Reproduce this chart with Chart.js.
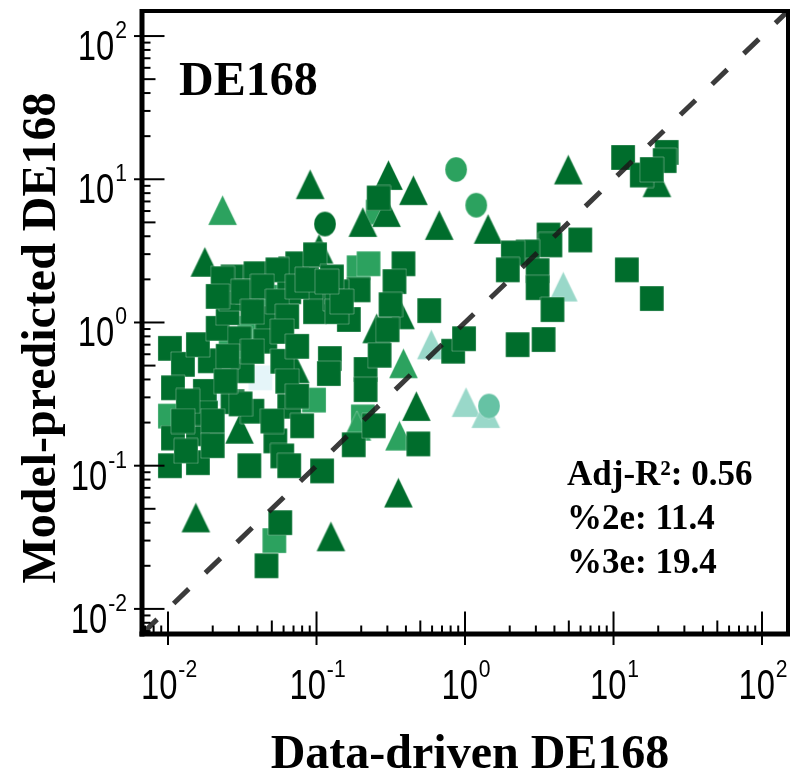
<!DOCTYPE html>
<html><head><meta charset="utf-8">
<script src="https://cdn.jsdelivr.net/npm/chart.js@4"></script>
<style>html,body{margin:0;padding:0;background:#fff}#wrap{width:799px;height:773px;position:relative}</style>
</head><body><div id="wrap"><canvas id="c" width="799" height="773"></canvas></div>
<script>
// ---- data ----
const axisMin = 0.00668, axisMax = 149.6;
const decadeTicks = [0.01, 0.1, 1, 10, 100];
const decadeExponents = ['-2', '-1', '0', '1', '2'];
const xTitle = 'Data-driven DE168';
const yTitle = 'Model-predicted DE168';
const panelLabel = 'DE168';
const statLines = ['Adj-R\u00B2: 0.56', '%2e: 11.4', '%3e: 19.4'];
const identityLine = [[0.00668, 0.00668], [149.6, 149.6]];

const darkSquares = [
  [0.0103,0.66],[0.0126,0.51],[0.0108,0.35],[0.0103,0.100],[0.0159,0.105],[0.0108,0.156],
  [0.0159,0.167],[0.0154,0.23],[0.0177,0.33],[0.0191,0.54],[0.0159,0.70],[0.0216,0.91],
  [0.0252,1.17],[0.0264,1.47],[0.0272,2.08],[0.0388,2.19],[0.0665,2.37],[0.0741,2.57],
  [0.0977,2.97],[0.0655,1.64],[0.0467,1.07],[0.0303,0.77],[0.0452,0.74],[0.0318,0.46],
  [0.0272,0.28],[0.0370,0.24],[0.0655,0.26],[0.080,0.19],[0.0528,0.149],[0.0588,0.117],
  [0.0353,0.100],[0.109,0.092],[0.0993,1.64],[0.0977,1.19],[0.133,1.47],[0.123,0.56],
  [0.121,0.44],[0.165,1.05],[0.192,1.69],[0.214,0.47],[0.214,0.34],[0.178,0.14],
  [0.243,0.19],[0.385,2.57],[0.335,1.93],[0.315,1.33],[0.574,1.21],[0.832,0.63],
  [0.985,0.77],[0.485,0.142],[0.057,0.040],[0.046,0.020],[0.137,1.64],[0.0308,0.27],
  [0.018,0.233],[0.266,0.59],[0.301,0.89],[0.0233,2.02],[0.0545,2.33],[0.0343,1.64],
  [0.0216,1.52],[0.262,7.4],
  [0.0318,1.64],[0.0432,1.78],[0.0545,1.40],[0.0741,1.78],[0.0370,1.19],[0.0635,1.10],
  [0.127,2.08],[0.137,1.19],[0.0863,1.99],[0.0136,0.283],[0.0126,0.205],[0.0200,0.205],
  [0.0132,0.127],[0.0200,0.138],[0.0252,0.581],[0.0370,0.629],[0.0244,0.389],[0.0588,0.536],
  [0.0635,0.389],[0.0741,0.306],[0.0655,0.100],[0.0588,0.866],[0.148,1.40],[0.1175,1.93],
  [0.0741,0.681],[0.0504,0.205],
  [3.65,4.08],[3.76,3.48],[5.97,3.77],[2.64,3.11],[2.10,3.06],[1.94,2.33],[3.08,2.30],
  [3.08,1.75],[3.88,1.23],[12.3,2.33],[18.1,1.47],[2.26,0.70],[3.38,0.76],[11.6,14.2],
  [22.8,15.4],[22.1,13.5],[15.5,10.7],[18.1,11.7]
];
const mediumSquares = [
  [0.0103,0.222],[0.0353,0.91],[0.0452,1.40],[0.0264,0.68],[0.0962,0.287],[0.192,2.41],
  [0.224,2.57],[0.258,5.9],[0.205,0.219],[0.052,0.030],[0.0504,1.50]
];
const lightSquares = [[0.0419,0.41],[0.0209,0.32],[0.0665,2.26]];
const darkTriangles = [
  [0.0177,2.65],[0.0906,9.23],[0.305,10.7],[0.449,8.39],[0.205,5.03],[0.296,5.9],
  [0.670,4.79],[1.43,4.50],[4.96,11.7],[19.6,9.53],[0.0303,0.181],[0.0154,0.0435],
  [0.125,0.0321],[0.356,0.0649],[0.470,0.261],[0.104,3.27],[0.0718,0.48],[0.254,0.91],
  [0.368,1.14]
];
const mediumTriangles = [[0.0233,6.09],[0.385,0.519],[0.362,0.162],[0.187,0.19]];
const lightTriangles = [[0.593,0.703],[1.016,0.278],[1.38,0.233],[4.59,1.78]];
const darkCircles = [[0.114,4.87]];
const mediumCircles = [[0.871,11.7],[1.19,6.59]];
const tealCircles = [[1.45,0.261]];

// ---- colours ----
const C_DARK = '#006d2c', C_MED = '#2ca25f', C_LIGHT = '#99d8c9', C_TEAL = '#66c2a4', C_PALE = '#e5f5f9';

function markerCanvas(kind, color) {
  const dims = {square:[24,25], triangle:[29,30], circle:[22,25]}[kind];
  const w = dims[0], h = dims[1];
  const c = document.createElement('canvas');
  c.width = w + 2; c.height = h + 2;
  const g = c.getContext('2d');
  g.beginPath();
  if (kind === 'square') g.rect(1, 1, w, h);
  else if (kind === 'triangle') { g.moveTo(1 + w/2, 1); g.lineTo(1 + w, 1 + h); g.lineTo(1, 1 + h); g.closePath(); }
  else g.ellipse(1 + w/2, 1 + h/2, w/2, h/2, 0, 0, Math.PI * 2);
  g.fillStyle = color; g.fill();
  g.strokeStyle = 'rgba(255,255,255,0.3)'; g.lineWidth = 1; g.stroke();
  return c;
}
const pts = arr => arr.map(p => ({x: p[0], y: p[1]}));
function ds(arr, kind, color, order) {
  return { data: pts(arr), pointStyle: markerCanvas(kind, color), pointRadius: 10, order: order, showLine: false };
}

const framePlugin = {
  id: 'frame',
  afterDraw(chart) {
    const ctx = chart.ctx, a = chart.chartArea, xs = chart.scales.x, ys = chart.scales.y;
    ctx.save();
    ctx.strokeStyle = '#000'; ctx.fillStyle = '#000';
    // ticks
    ctx.lineWidth = 2;
    for (let d = -3; d <= 2; d++) {
      for (let m = 1; m <= 9; m++) {
        const v = m * Math.pow(10, d);
        if (v < axisMin || v > axisMax) continue;
        const len = m === 1 ? 20 : (m === 5 ? 11 : 6);
        const px = xs.getPixelForValue(v);
        ctx.beginPath();
        ctx.moveTo(px, a.bottom + (m === 1 ? 11 : 0));
        ctx.lineTo(px, a.bottom - 2.5 - len);
        ctx.stroke();
        const py = ys.getPixelForValue(v);
        ctx.beginPath();
        ctx.moveTo(a.left - (m === 1 ? 8 : 0), py);
        ctx.lineTo(a.left + 2.5 + len, py);
        ctx.stroke();
      }
    }
    // frame
    ctx.lineWidth = 5;
    ctx.beginPath(); ctx.moveTo(a.left, a.top - 2); ctx.lineTo(a.left, a.bottom + 2.5); ctx.stroke();
    ctx.beginPath(); ctx.moveTo(a.left - 2.5, a.bottom); ctx.lineTo(a.right + 2, a.bottom); ctx.stroke();
    ctx.lineWidth = 4;
    ctx.beginPath(); ctx.moveTo(a.left, a.top); ctx.lineTo(a.right + 2, a.top); ctx.stroke();
    ctx.beginPath(); ctx.moveTo(a.right, a.top); ctx.lineTo(a.right, a.bottom); ctx.stroke();
    // tick labels
    const SX = 0.78, ESX = 0.88;
    const baseFont = '42px "Liberation Sans", Arial, sans-serif', expFont = '24px "Liberation Sans", Arial, sans-serif';
    function label(exp, x, yBase, align) {
      ctx.font = baseFont; const wb = ctx.measureText('10').width * SX;
      ctx.font = expFont; const we = ctx.measureText(exp).width * ESX;
      const total = wb + 1 + we;
      const x0 = align === 'center' ? x - total / 2 : x - total;
      ctx.save(); ctx.translate(x0, yBase); ctx.scale(SX, 1); ctx.font = baseFont; ctx.textAlign = 'left'; ctx.fillText('10', 0, 0); ctx.restore();
      ctx.save(); ctx.translate(x0 + wb + 1, yBase - 22); ctx.scale(ESX, 1); ctx.font = expFont; ctx.textAlign = 'left'; ctx.fillText(exp, 0, 0); ctx.restore();
    }
    ctx.textBaseline = 'alphabetic';
    decadeTicks.forEach((v, i) => {
      label(decadeExponents[i], xs.getPixelForValue(v) + 1, 699, 'center');
      label(decadeExponents[i], 127, ys.getPixelForValue(v) + 24, 'right');
    });
    // titles
    ctx.font = 'bold 48px "Liberation Serif", "Times New Roman", serif';
    ctx.textAlign = 'center';
    ctx.fillText(xTitle, 470, 768);
    ctx.save(); ctx.translate(55, 338); ctx.rotate(-Math.PI / 2); ctx.fillText(yTitle, 0, 0); ctx.restore();
    ctx.textAlign = 'left';
    ctx.fillText(panelLabel, 179, 95);
    ctx.font = 'bold 35px "Liberation Serif", "Times New Roman", serif';
    statLines.forEach((s, i) => ctx.fillText(s, 567, 485 + i * 44));
    ctx.restore();
  }
};

new Chart(document.getElementById('c'), {
  type: 'scatter',
  data: {
    datasets: [
      { type: 'line', data: pts(identityLine), borderColor: 'rgba(25,25,25,0.85)', borderWidth: 5,
        borderDash: [21, 23], pointRadius: 0, fill: false, order: 0, borderCapStyle: 'butt' },
      ds(tealCircles, 'circle', C_TEAL, 1),
      ds(mediumCircles, 'circle', C_MED, 2),
      ds(darkCircles, 'circle', C_DARK, 3),
      ds(darkSquares, 'square', C_DARK, 4),
      ds(darkTriangles, 'triangle', C_DARK, 5),
      ds(lightTriangles, 'triangle', C_LIGHT, 6),
      ds(mediumTriangles, 'triangle', C_MED, 7),
      ds(mediumSquares, 'square', C_MED, 8),
      ds(lightSquares, 'square', C_PALE, 9)
    ]
  },
  options: {
    responsive: false, animation: false, events: [],
    layout: { padding: { left: 142, right: 5, top: 8, bottom: 139 } },
    plugins: { legend: { display: false }, tooltip: { enabled: false } },
    scales: {
      x: { type: 'logarithmic', min: axisMin, max: axisMax, display: false },
      y: { type: 'logarithmic', min: axisMin, max: axisMax, display: false }
    }
  },
  plugins: [framePlugin]
});
</script></body></html>
